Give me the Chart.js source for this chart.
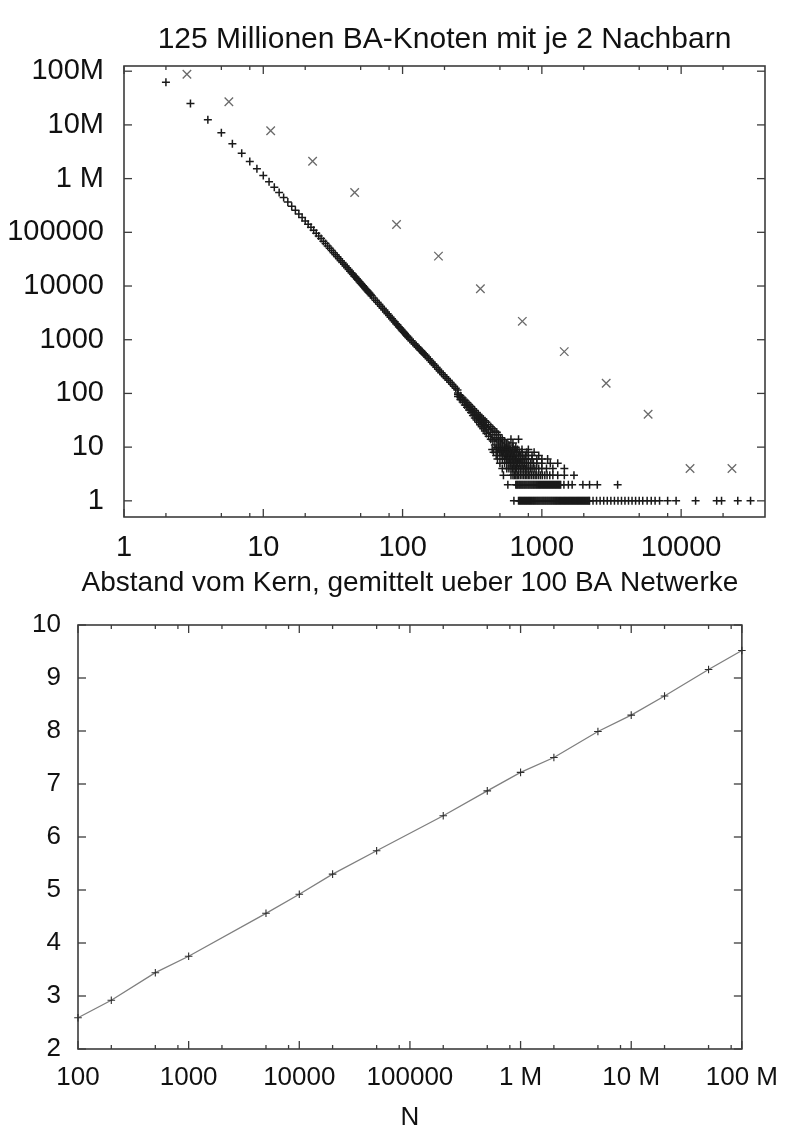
<!DOCTYPE html>
<html>
<head>
<meta charset="utf-8">
<title>BA-Netzwerk</title>
<script src="https://cdn.jsdelivr.net/npm/chart.js@4.4.1/dist/chart.umd.min.js"></script>
<style>
  html, body { margin: 0; padding: 0; background: #fff; }
  #page { position: relative; width: 794px; height: 1132px; overflow: hidden; }
  canvas { position: absolute; left: 0; }
  #degreeChart { top: 0; }
  #distChart { top: 565px; }
</style>
</head>
<body>
<div id="page">
  <canvas id="degreeChart" width="794" height="565"></canvas>
  <canvas id="distChart" width="794" height="567"></canvas>
</div>
<script>
// ---- top chart: degree distribution ('+') ----
// main band, one point per degree k
const degreeK = [2,3,4,5,6,7,8,9,10,11,12,13,14,15,16,17,18,19,20,21,22,23,24,25,26,27,28,29,30,
  31,32,33,34,35,36,37,38,39,40,41,42,43,44,45,46,47,48,49,50,51,52,53,54,55,56,57,58,59,60,
  62,64,66,68,70,72,74,76,78,80,82,84,86,88,90,92,94,96,98,100,
  102,104,106,108,110,113,116,119,122,125,128,131,134,137,140,143,146,150,
  154,158,162,166,170,175,180,185,190,196,202,208,214,220,227,234,241,248];
const degreeCount = [62500000,25000000,12500000,7140000,4460000,2980000,2080000,1520000,1140000,
  874000,687000,549000,446000,368000,306000,258000,219000,188000,162000,
  141000,124000,109000,96200,85500,76300,68400,61600,55600,50400,
  45800,41800,38200,35000,32200,29600,27400,25300,23500,21800,
  20300,18900,17600,16500,15400,14500,13600,12800,12000,11300,
  10700,10100,9550,9020,8550,8100,7690,7310,6950,6610,
  6000,5460,4990,4570,4190,3860,3560,3290,3040,2820,
  2630,2450,2280,2130,1990,1870,1750,1650,1550,1460,
  1380,1300,1230,1160,1100,1020,953,889,831,779,
  731,687,646,609,575,543,514,476,
  441,410,382,356,333,306,282,261,242,222,205,189,175,162,148,136,125,116];

// noisy part of the band (counts >= 10)
const scatterK = [250,250,250,260,260,260,270,270,270,280,280,280,290,290,290,300,300,300,
  310,310,310,320,320,320,330,330,330,340,340,340,350,350,350,360,360,360,370,370,370,
  380,380,380,390,390,390,400,400,400,415,415,415,430,430,430,445,445,445,460,460,460,
  475,475,475,490,490,490,505,505,520,520,540,540,560,560,580,600,620,620,650,680];
const scatterCount = [95,88,102,84,77,91,75,69,82,68,61,75,61,55,68,55,49,62,
  50,44,57,45,39,52,41,35,48,38,32,44,35,29,41,32,26,38,29,24,35,
  27,22,33,25,20,31,23,18,29,21,16,26,19,14,24,17,13,22,15,11,20,
  14,10,19,13,10,17,12,15,11,14,10,13,10,12,11,14,10,12,10,14];

// degrees seen with very small counts (rows at count 1..9)
const onesK = [630,680,692,703,715,727,740,752,765,778,791,805,818,832,846,861,875,890,905,921,936,
  952,968,985,1002,1019,1036,1054,1071,1090,1108,1127,1146,1166,1185,1206,1226,1247,1268,1289,
  1311,1334,1356,1379,1403,1427,1451,1475,1500,1526,1552,1578,1605,1632,1660,1688,1717,1746,
  1776,1806,1836,1867,1899,1931,1964,1997,2031,2066,2101,2136,2173,
  2200,2330,2470,2620,2780,2950,3130,3320,3520,3730,3950,4190,4440,4710,5000,5300,
  5700,6100,6500,7000,8000,9200,12700,18000,19500,25500,31500];
const twosK = [570,650,661,672,684,695,707,719,731,744,756,769,782,796,809,823,837,851,866,880,
  895,911,926,942,958,974,991,1008,1025,1042,1060,1078,1096,1115,1134,1153,1173,1193,1213,
  1234,1255,1276,1298,1320,1342,1365,1440,1550,1650,1970,2200,2500,3500];
const threesK = [530,600,620,635,650,665,680,700,720,740,760,780,800,820,845,870,895,920,950,980,
  1010,1050,1090,1140,1200,1300,1450,1700];
const foursK = [520,560,580,600,615,630,645,660,680,700,720,740,760,780,800,825,850,880,910,950,
  1000,1080,1200,1450];
const fivesK = [500,540,560,580,595,610,625,640,655,670,690,710,730,750,775,800,830,870,920,1000,1150,1300];
const sixesK = [480,520,540,555,570,585,600,615,630,645,660,680,700,720,745,770,800,850,920,1000,1100];
const sevensK = [470,500,520,535,550,565,580,595,610,625,640,660,680,700,730,760,800,850,950];
const eightsK = [450,480,500,515,530,545,560,575,590,605,620,640,660,690,720,780,880];
const ninesK = [440,470,490,505,520,535,550,565,580,595,615,640,670,720,800];

// log-binned distribution ('x')
const binK = [2.83,5.66,11.3,22.6,45.3,90.5,181,362,724,1448,2896,5793,11585,23170];
const binCount = [87500000,27000000,7800000,2100000,550000,140000,36000,8900,2200,600,155,41,4,4];

const topXTicks = [1,10,100,1000,10000];
const topXLabels = ['1','10','100','1000','10000'];
const topXMinor = [2,5,8,20,50,80,200,500,800,2000,5000,8000,20000];
const topYTicks = [1,10,100,1000,10000,100000,1000000,10000000,100000000];
const topYLabels = ['1','10','100','1000','10000','100000','1 M','10M','100M'];

// ---- bottom chart: distance from core vs N ----
const netSize = [100,200,500,1000,5000,10000,20000,50000,200000,500000,1000000,2000000,5000000,
  10000000,20000000,50000000,100000000];
const coreDist = [2.59,2.92,3.44,3.75,4.56,4.92,5.30,5.74,6.40,6.87,7.22,7.50,7.99,8.30,8.66,9.16,9.52];

const botXTicks = [100,1000,10000,100000,1000000,10000000,100000000];
const botXLabels = ['100','1000','10000','100000','1 M','10 M','100 M'];
const botXMinor = [200,500,800,2000,5000,8000,20000,50000,80000,200000,500000,800000,
  2000000,5000000,8000000,20000000,50000000,80000000];
const botYTicks = [2,3,4,5,6,7,8,9,10];

Chart.defaults.font.family = '"Liberation Sans", Arial, sans-serif';
Chart.defaults.color = '#111';

function toPoints(xs, ys) {
  return xs.map((x, i) => ({ x: x, y: ys[i] }));
}
function rowPoints(xs, c) {
  return xs.map(x => ({ x: x, y: c }));
}

const plusPoints = [].concat(
  toPoints(degreeK, degreeCount),
  toPoints(scatterK, scatterCount),
  rowPoints(onesK, 1), rowPoints(twosK, 2), rowPoints(threesK, 3),
  rowPoints(foursK, 4), rowPoints(fivesK, 5), rowPoints(sixesK, 6),
  rowPoints(sevensK, 7), rowPoints(eightsK, 8), rowPoints(ninesK, 9)
);

// gnuplot style frame with inward ticks on all four sides
const frameTicks = {
  id: 'frameTicks',
  beforeDatasetsDraw(chart, args, opts) {
    const { ctx, chartArea: a, scales } = chart;
    ctx.save();
    ctx.strokeStyle = '#3c3c3c';
    ctx.lineWidth = 1.6;
    ctx.strokeRect(a.left, a.top, a.right - a.left, a.bottom - a.top);
    ctx.lineWidth = 1.3;
    const seg = (x1, y1, x2, y2) => { ctx.beginPath(); ctx.moveTo(x1, y1); ctx.lineTo(x2, y2); ctx.stroke(); };
    const xt = (vals, len) => vals.forEach(v => {
      const x = scales.x.getPixelForValue(v);
      seg(x, a.bottom, x, a.bottom - len);
      seg(x, a.top, x, a.top + len);
    });
    const yt = (vals, len) => vals.forEach(v => {
      const y = scales.y.getPixelForValue(v);
      seg(a.left, y, a.left + len, y);
      seg(a.right, y, a.right - len, y);
    });
    xt(opts.xMajor, 8);
    xt(opts.xMinor, 4);
    yt(opts.yMajor, 8);
    ctx.restore();
  }
};

function fixedTicks(values) {
  return scale => { scale.ticks = values.map(v => ({ value: v })); };
}

new Chart(document.getElementById('degreeChart'), {
  type: 'scatter',
  data: {
    datasets: [{
      data: plusPoints,
      pointStyle: 'cross',
      pointRadius: 4,
      borderColor: '#1a1a1a',
      borderWidth: 1.5
    }, {
      data: toPoints(binK, binCount),
      pointStyle: 'crossRot',
      pointRadius: 6,
      borderColor: '#6a6a6a',
      borderWidth: 1.3
    }]
  },
  options: {
    responsive: false,
    animation: false,
    devicePixelRatio: 1,
    layout: { padding: { left: 0, right: 29, top: 0, bottom: 0 } },
    plugins: {
      legend: { display: false },
      tooltip: { enabled: false },
      title: {
        display: true,
        fullSize: false,
        text: '125 Millionen BA-Knoten mit je 2 Nachbarn',
        font: { size: 30, weight: 'normal', lineHeight: 1 },
        color: '#111',
        padding: { top: 25, bottom: 11 }
      },
      frameTicks: { xMajor: topXTicks, xMinor: topXMinor, yMajor: topYTicks }
    },
    scales: {
      x: {
        type: 'logarithmic',
        min: 1,
        max: 40000,
        grid: { display: false, drawTicks: false },
        border: { display: false },
        afterBuildTicks: fixedTicks(topXTicks),
        afterFit: s => { s.height = 48; },
        ticks: {
          autoSkip: false, maxRotation: 0, padding: 16,
          font: { size: 29, lineHeight: 1 },
          callback: (v, i) => topXLabels[i]
        }
      },
      y: {
        type: 'logarithmic',
        min: 0.5,
        max: 125000000,
        grid: { display: false, drawTicks: false },
        border: { display: false },
        afterBuildTicks: fixedTicks(topYTicks),
        afterFit: s => { s.width = 124; },
        ticks: {
          autoSkip: false, padding: 20,
          font: { size: 29, lineHeight: 1 },
          callback: (v, i) => topYLabels[i]
        }
      }
    }
  },
  plugins: [frameTicks]
});

new Chart(document.getElementById('distChart'), {
  type: 'scatter',
  data: {
    datasets: [{
      data: toPoints(netSize, coreDist),
      showLine: true,
      borderColor: '#7f7f7f',
      borderWidth: 1.3,
      pointStyle: 'cross',
      pointRadius: 3.8,
      pointBorderColor: '#2e2e2e',
      pointBorderWidth: 1.1,
      clip: false
    }]
  },
  options: {
    responsive: false,
    animation: false,
    devicePixelRatio: 1,
    layout: { padding: { left: 0, right: 45, top: 0, bottom: 0 } },
    plugins: {
      legend: { display: false },
      tooltip: { enabled: false },
      title: {
        display: true,
        fullSize: false,
        text: 'Abstand vom Kern, gemittelt ueber 100 BA Netwerke',
        font: { size: 28, weight: 'normal', lineHeight: 1 },
        color: '#111',
        padding: { top: 4, bottom: 28 }
      },
      frameTicks: { xMajor: botXTicks, xMinor: botXMinor, yMajor: botYTicks }
    },
    scales: {
      x: {
        type: 'logarithmic',
        min: 100,
        max: 100000000,
        grid: { display: false, drawTicks: false },
        border: { display: false },
        afterBuildTicks: fixedTicks(botXTicks),
        afterFit: s => { s.height = 83; },
        title: {
          display: true,
          text: 'N',
          font: { size: 26, lineHeight: 1 },
          color: '#111',
          padding: { top: 0, bottom: 1 }
        },
        ticks: {
          autoSkip: false, maxRotation: 0, padding: 16,
          font: { size: 26, lineHeight: 1 },
          callback: (v, i) => botXLabels[i]
        }
      },
      y: {
        min: 2,
        max: 10,
        grid: { display: false, drawTicks: false },
        border: { display: false },
        afterBuildTicks: fixedTicks(botYTicks),
        afterFit: s => { s.width = 78; },
        ticks: {
          autoSkip: false, padding: 17,
          font: { size: 26, lineHeight: 1 },
          callback: v => String(v)
        }
      }
    }
  },
  plugins: [frameTicks]
});
</script>
</body>
</html>
